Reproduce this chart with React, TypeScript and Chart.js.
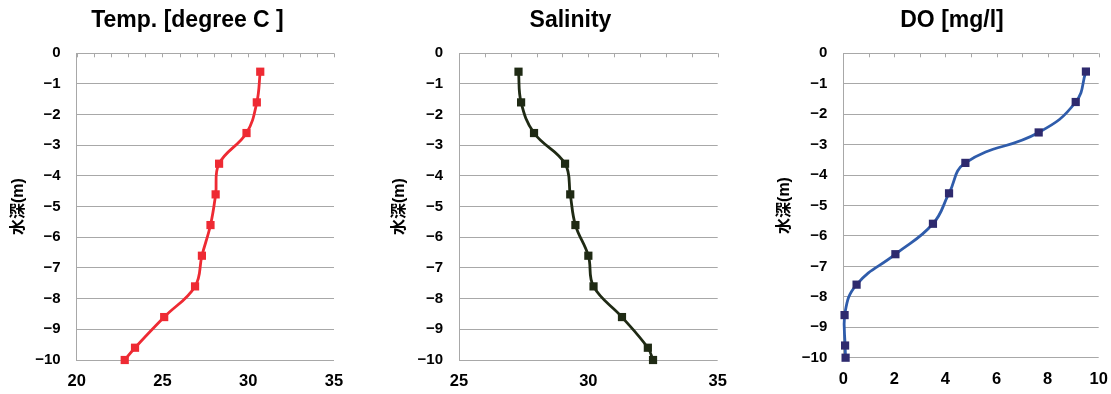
import React, { useEffect, useRef } from "react";
import { Chart, registerables } from "chart.js";

Chart.register(...registerables);

// ---- data ----
const depthM = [-0.6, -1.6, -2.6, -3.6, -4.6, -5.6, -6.6, -7.6, -8.6, -9.6, -10];
const temperatureC = [30.7, 30.5, 29.9, 28.3, 28.1, 27.8, 27.3, 26.9, 25.1, 23.4, 22.8];
const salinityPsu = [27.3, 27.4, 27.9, 29.1, 29.3, 29.5, 30.0, 30.2, 31.3, 32.3, 32.5];
const dissolvedOxygen = [9.5, 9.1, 7.65, 4.78, 4.14, 3.51, 2.04, 0.52, 0.05, 0.07, 0.09];

const depthTicks = [0, -1, -2, -3, -4, -5, -6, -7, -8, -9, -10];
const tempTicks = [20, 25, 30, 35];
const salinityTicks = [25, 30, 35];
const doTicks = [0, 2, 4, 6, 8, 10];

const titles = ["Temp. [degree C ]", "Salinity", "DO [mg/l]"];
const depthAxisTitle = "水深(m)";

// ---- style ----
const FONT = "'Liberation Sans', 'Noto Sans CJK JP', Arial, sans-serif";
const GRID = "#A8A8A8";
const H = 394;

type Panel = {
  title: string;
  values: number[];
  xTicks: number[];
  minorStep: number;
  line: string;
  marker: string;
  tension: number;
  canvasLeft: number;
  areaLeft: number;
  areaRight: number;
  areaTop: number;
  areaBottom: number;
  titleCenter: number;
  yTitleX: number;
};

const panels: Panel[] = [
  {
    title: titles[0], values: temperatureC, xTicks: tempTicks, minorStep: 1,
    line: "#EE2A33", marker: "#EE2A33", tension: 0.4,
    canvasLeft: 0, areaLeft: 76.7, areaRight: 334,
    areaTop: 53.3, areaBottom: 360, titleCenter: 187.5, yTitleX: 19,
  },
  {
    title: titles[1], values: salinityPsu, xTicks: salinityTicks, minorStep: 1,
    line: "#1F2A14", marker: "#1F2A14", tension: 0.4,
    canvasLeft: 370, areaLeft: 459, areaRight: 717.7,
    areaTop: 53.3, areaBottom: 360, titleCenter: 570.3, yTitleX: 400,
  },
  {
    title: titles[2], values: dissolvedOxygen, xTicks: doTicks, minorStep: 1,
    line: "#2F5CAB", marker: "#2E2A6E", tension: 0.45,
    canvasLeft: 740, areaLeft: 843.3, areaRight: 1098.7,
    areaTop: 53.3, areaBottom: 357.7, titleCenter: 952, yTitleX: 785,
  },
];

const minorTicksPlugin = {
  id: "minorTicks",
  beforeDatasetsDraw(chart: any, _args: any, opts: any) {
    const xs = chart.scales.x;
    const top = chart.chartArea.top;
    const ctx = chart.ctx;
    ctx.save();
    ctx.strokeStyle = GRID;
    ctx.lineWidth = 1;
    for (let v = xs.min; v <= xs.max + 1e-9; v += opts.step) {
      const px = Math.round(xs.getPixelForValue(v)) + 0.5;
      ctx.beginPath();
      ctx.moveTo(px, top);
      ctx.lineTo(px, top + 4);
      ctx.stroke();
    }
    ctx.restore();
  },
};

function ProfileChart({ p }: { p: Panel }) {
  const ref = useRef<HTMLCanvasElement | null>(null);
  const c = p.canvasLeft;
  // the title spans [canvasLeft, canvasLeft + width]; centre it where the reference has it
  const width = Math.ceil(2 * (p.titleCenter - c));
  const rightBox = width - (p.areaRight - c);

  useEffect(() => {
    if (!ref.current) return;
    const yWidth = p.areaLeft - c;
    const titleFont = 23;
    const titleLH = titleFont * 1.2;
    const titleTopPad = 7;
    const yTitleFont = 16;
    const yTitlePad = p.yTitleX - c - (yTitleFont * 1.2) / 2;
    const xMin = p.xTicks[0];
    const xMax = p.xTicks[p.xTicks.length - 1];

    const chart = new Chart(ref.current, {
      type: "scatter",
      data: {
        datasets: [
          {
            data: p.values.map((v, i) => ({ x: v, y: depthM[i] })),
            showLine: true,
            borderColor: p.line,
            borderWidth: 2.8,
            tension: p.tension,
            pointStyle: "rect",
            pointRadius: 5.8,
            pointBackgroundColor: p.marker,
            pointBorderColor: p.marker,
            pointBorderWidth: 0,
            clip: false,
          } as any,
        ],
      },
      options: {
        animation: false,
        responsive: false,
        devicePixelRatio: 1,
        layout: { padding: 0 },
        plugins: {
          legend: { display: false },
          tooltip: { enabled: false },
          title: {
            display: true,
            text: p.title,
            color: "#000",
            font: { family: FONT, size: titleFont, weight: "bold" },
            padding: { top: titleTopPad, bottom: p.areaTop - titleTopPad - titleLH },
          },
          minorTicks: { step: p.minorStep },
        } as any,
        scales: {
          x: {
            type: "linear",
            position: "bottom",
            min: xMin,
            max: xMax,
            afterBuildTicks: (s: any) => {
              s.ticks = p.xTicks.map((v) => ({ value: v }));
            },
            ticks: {
              color: "#000",
              font: { family: FONT, size: 16.5, weight: "bold" },
              padding: 12,
              maxRotation: 0,
              autoSkip: false,
            },
            grid: { display: false, drawTicks: false },
            border: { display: false },
            afterFit: (s: any) => {
              s.height = H - p.areaBottom;
            },
          },
          y: {
            type: "linear",
            position: "left",
            min: -10,
            max: 0,
            afterBuildTicks: (s: any) => {
              s.ticks = depthTicks.map((v) => ({ value: v }));
            },
            ticks: {
              color: "#000",
              font: { family: FONT, size: 15, weight: "bold" },
              padding: 16,
              callback: (v: any) => String(v).replace("-", "\u2212"),
            },
            grid: { color: GRID, lineWidth: 1, drawTicks: false },
            border: { display: true, color: GRID, width: 1 },
            title: {
              display: true,
              text: depthAxisTitle,
              color: "#000",
              font: { family: FONT, size: yTitleFont, weight: "bold" },
              padding: { top: yTitlePad, bottom: 0 },
            },
            afterFit: (s: any) => {
              s.width = yWidth;
            },
          },
          // empty right-hand spacer so the chart title is centred like the reference
          spacer: {
            type: "linear",
            position: "right",
            min: -10,
            max: 0,
            ticks: { display: false },
            grid: { display: false, drawTicks: false },
            border: { display: false },
            afterFit: (s: any) => {
              s.width = rightBox;
            },
          },
        },
      } as any,
      plugins: [minorTicksPlugin],
    });
    return () => chart.destroy();
  }, [p]);

  return (
    <canvas
      ref={ref}
      width={width}
      height={H}
      style={{
        position: "absolute",
        left: c,
        top: 0,
        width: width,
        height: H,
      }}
    />
  );
}

export default function App() {
  return (
    <div
      style={{
        position: "absolute",
        left: 0,
        top: 0,
        width: 1111,
        height: H,
        background: "#fff",
        overflow: "hidden",
      }}
    >
      {panels.map((p, i) => (
        <ProfileChart key={i} p={p} />
      ))}
    </div>
  );
}
